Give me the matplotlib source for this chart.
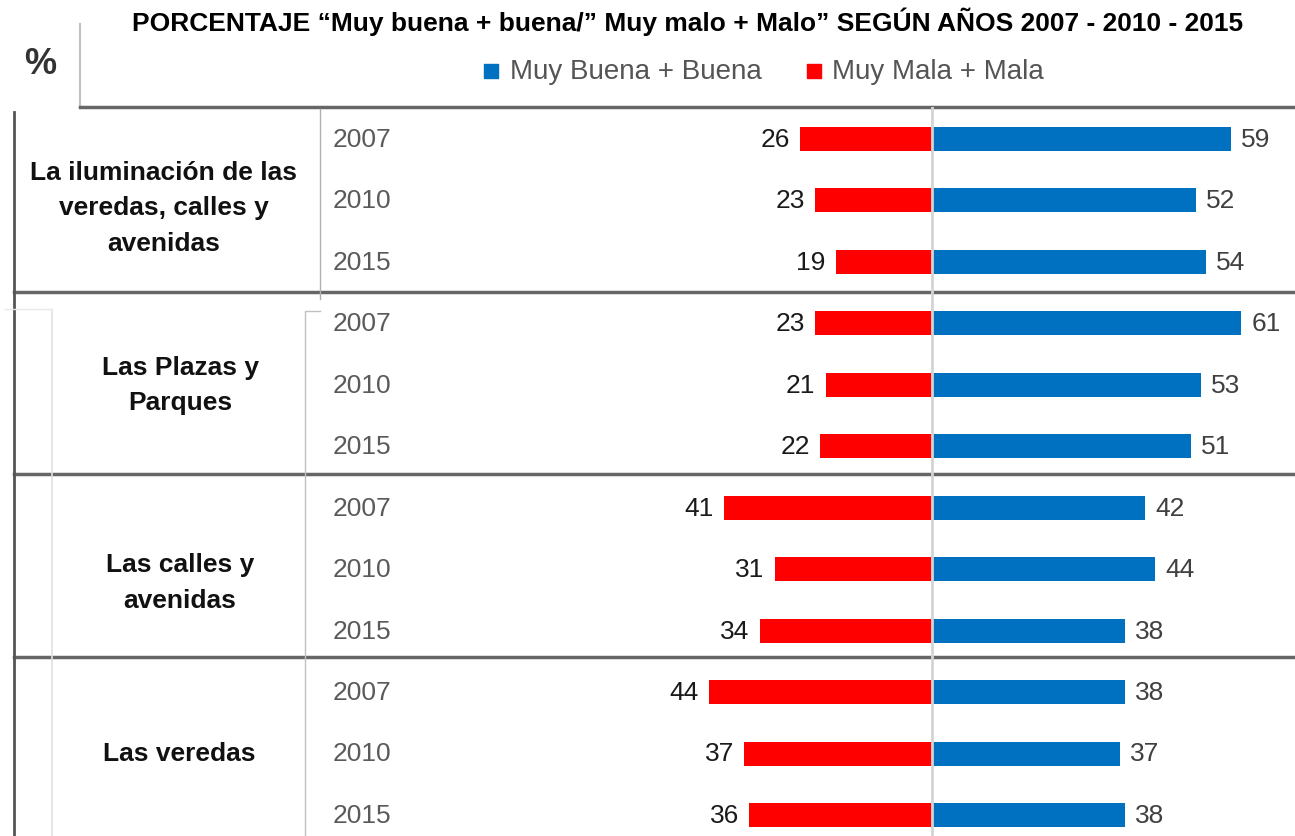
import matplotlib
matplotlib.use("Agg")
import matplotlib.pyplot as plt
import matplotlib.transforms as mtransforms
import numpy as np

# ---------------- data ----------------
categories = [
    "La iluminación de las\nveredas, calles y\navenidas",
    "Las Plazas y\nParques",
    "Las calles y\navenidas",
    "Las veredas",
]
years = ["2007", "2010", "2015"]
buena = [59, 52, 54, 61, 53, 51, 42, 44, 38, 38, 37, 38]   # Muy Buena + Buena
mala = [26, 23, 19, 23, 21, 22, 41, 31, 34, 44, 37, 36]    # Muy Mala + Mala
title = "PORCENTAJE \u201cMuy buena + buena/\u201d Muy malo + Malo\u201d SEGÚN AÑOS 2007 - 2010 - 2015"
legend_labels = ["Muy Buena + Buena", "Muy Mala + Mala"]

BLUE = "#0070C0"
RED = "#FF0000"

W, H = 1295, 837
fig = plt.figure(figsize=(W / 100, H / 100), dpi=100)

# overlay axes in pixel coordinates for the table frame
ov = fig.add_axes([0, 0, 1, 1], zorder=0)
ov.set_xlim(0, W)
ov.set_ylim(H, 0)
ov.axis("off")

# main bar axes
left_px, top_px = 320, 108
ax = fig.add_axes([left_px / W, 0, (W - left_px) / W, (H - top_px) / H], zorder=1)
ax.patch.set_visible(False)
ppu = 5.07
cx = 932
ax.set_xlim(-(cx - left_px) / ppu, (W - cx) / ppu)
row0, step = 140, 61.45
ax.set_ylim((H - row0) / step, -(row0 - top_px) / step)
for s in ax.spines.values():
    s.set_visible(False)
ax.set_xticks([])
ax.set_yticks([])

n = len(buena)
y = np.arange(n)
bh = 24 / step
ax.barh(y, buena, height=bh, color=BLUE, zorder=2)
ax.barh(y, [-v for v in mala], height=bh, color=RED, zorder=2)
ax.axvline(0, color="#d4d4d4", lw=2, zorder=3)

numfont = dict(family=["Liberation Sans", "DejaVu Sans"], fontsize=19)
for i in range(n):
    ax.text(buena[i] + 2, y[i], str(buena[i]), ha="left", va="center",
            color="#404040", **numfont)
    ax.text(-mala[i] - 2, y[i], str(mala[i]), ha="right", va="center",
            color="#1a1a1a", **numfont)
    ax.text((333 - cx) / ppu, y[i], years[i % 3], ha="left", va="center",
            color="#5a5a5a", **numfont)

# category labels
bt = mtransforms.blended_transform_factory(ov.transData, ax.transData)
cat_x = [164, 180, 180, 179]
cat_dy = [0.11, 0.0, 0.21, 0.0]
for g, cat in enumerate(categories):
    ax.text(cat_x[g], 3 * g + 1 + cat_dy[g], cat, transform=bt, ha="center",
            va="center", fontsize=19, fontweight="bold", color="#111111",
            family=["Liberation Sans", "DejaVu Sans"], linespacing=1.6,
            clip_on=False)

# table frame lines
dark = "#666666"
ov.plot([80, 80], [25, 108], color="#c0c0c0", lw=1.5)
ov.plot([80, W], [108, 108], color=dark, lw=2.5)
for yy in [293, 475, 658]:
    ov.plot([14, W], [yy, yy], color=dark, lw=2.5)
ov.plot([14, 14], [113, H], color="#555555", lw=2)
ov.plot([320, 320], [110, 300], color="#b0b0b0", lw=1)
ov.plot([305, 305, 320], [H, 312, 312], color="#c0c0c0", lw=1)
ov.plot([52, 52], [312, H], color="#e0e0e0", lw=1.2)
ov.plot([5, 52], [310, 310], color="#e8e8e8", lw=1)

# "%" label
ov.text(40, 64, "%", ha="center", va="center", fontsize=26, fontweight="bold",
        color="#333333", family=["Liberation Sans", "DejaVu Sans"])

# legend
ov.scatter([491], [72], marker="s", s=110, color=BLUE, zorder=3)
ov.text(510, 72, legend_labels[0], ha="left", va="center", fontsize=20,
        color="#555555", family=["Liberation Sans", "DejaVu Sans"])
ov.scatter([814], [72], marker="s", s=110, color=RED, zorder=3)
ov.text(832, 72, legend_labels[1], ha="left", va="center", fontsize=20,
        color="#555555", family=["Liberation Sans", "DejaVu Sans"])

# title
fig.text(688 / W, 1 - 22 / H, title, ha="center", va="center", fontsize=19,
         fontweight="bold", color="black",
         family=["Liberation Sans Narrow", "Liberation Sans", "DejaVu Sans"])

fig.savefig("out.png", dpi=100)
